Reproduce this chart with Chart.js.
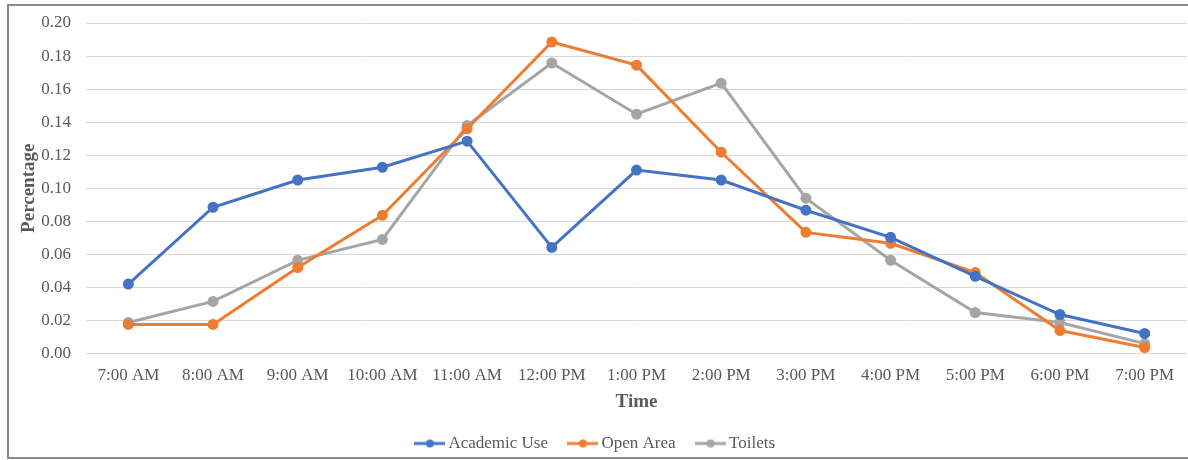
<!DOCTYPE html>
<html>
<head>
<meta charset="utf-8">
<script src="https://cdn.jsdelivr.net/npm/chart.js@4"></script>
<style>
  html, body { margin: 0; padding: 0; background: #fff; overflow: hidden; width: 1188px; height: 460px; }
  #frame { position: absolute; left: 7px; top: 4px; width: 1220px; height: 451px; border: 2px solid #8a8a8a; box-sizing: content-box; pointer-events: none; }
  #wrap { position: absolute; left: 8px; top: 5px; width: 1200px; height: 457px; }
</style>
</head>
<body>
<div id="wrap"><canvas id="chart"></canvas></div>
<div id="frame"></div>
<script>
  const HOURS = ["7:00 AM", "8:00 AM", "9:00 AM", "10:00 AM", "11:00 AM", "12:00 PM", "1:00 PM",
    "2:00 PM", "3:00 PM", "4:00 PM", "5:00 PM", "6:00 PM", "7:00 PM"];
  const ACADEMIC = [0.042, 0.0885, 0.105, 0.1127, 0.1285, 0.0642, 0.111, 0.105, 0.0867, 0.0703, 0.0467, 0.0236, 0.0121];
  const OPEN_AREA = [0.0176, 0.0176, 0.052, 0.0836, 0.136, 0.1885, 0.1745, 0.1218, 0.0733, 0.0667, 0.049, 0.0139, 0.0036];
  const TOILETS = [0.0188, 0.0315, 0.0564, 0.069, 0.138, 0.1758, 0.1448, 0.1636, 0.094, 0.0564, 0.0248, 0.0188, 0.006];

  const TEXT_COLOR = "#595959";
  const GRID_COLOR = "#d9d9d9";
  const FONT = "'Liberation Serif', 'Times New Roman', serif";

  function legendMarker(color) {
    const c = document.createElement("canvas");
    c.width = 31;
    c.height = 10;
    const g = c.getContext("2d");
    g.strokeStyle = color;
    g.lineWidth = 3;
    g.beginPath();
    g.moveTo(0, 5);
    g.lineTo(31, 5);
    g.stroke();
    g.fillStyle = color;
    g.beginPath();
    g.arc(15.5, 5, 4, 0, Math.PI * 2);
    g.fill();
    return c;
  }

  function series(label, data, color) {
    return {
      label: label,
      data: data,
      borderColor: color,
      backgroundColor: color,
      borderWidth: 3,
      pointRadius: 4,
      pointHoverRadius: 4,
      pointBackgroundColor: color,
      pointBorderColor: color,
      pointStyle: "circle",
      tension: 0,
      legendMarker: legendMarker(color),
    };
  }

  new Chart(document.getElementById("chart"), {
    type: "line",
    data: {
      labels: HOURS,
      datasets: [
        series("Academic Use", ACADEMIC, "#4472c4"),
        series("Open Area", OPEN_AREA, "#ed7d31"),
        series("Toilets", TOILETS, "#a5a5a5"),
      ],
    },
    options: {
      responsive: true,
      maintainAspectRatio: false,
      animation: false,
      layout: { padding: { top: 18, right: 21, left: 0, bottom: 0 } },
      plugins: {
        tooltip: { enabled: false },
        legend: {
          position: "bottom",
          labels: {
            usePointStyle: true,
            pointStyleWidth: 20,
            padding: 25,
            color: TEXT_COLOR,
            font: { family: FONT, size: 17 },
            generateLabels: function (chart) {
              return chart.data.datasets.map(function (ds, i) {
                return {
                  text: ds.label,
                  fontColor: TEXT_COLOR,
                  pointStyle: ds.legendMarker,
                  datasetIndex: i,
                  hidden: false,
                  lineWidth: 0,
                };
              });
            },
          },
        },
      },
      scales: {
        x: {
          offset: true,
          grid: { display: false, drawTicks: false },
          border: { display: false },
          ticks: { color: TEXT_COLOR, padding: 12, maxRotation: 0, autoSkip: false, font: { family: FONT, size: 17 } },
          title: {
            display: true,
            text: "Time",
            color: TEXT_COLOR,
            padding: { top: 0, bottom: -2 },
            font: { family: FONT, size: 19, weight: "bold", lineHeight: 1 },
          },
          afterFit: function (scale) {
            scale.height = 56.5;
            scale.paddingLeft = 0;
            scale.paddingRight = 0;
          },
        },
        y: {
          min: 0,
          max: 0.2,
          grid: { color: GRID_COLOR, lineWidth: 1, drawTicks: false },
          border: { display: false },
          ticks: {
            stepSize: 0.02,
            padding: 15,
            color: TEXT_COLOR,
            font: { family: FONT, size: 17 },
            callback: function (v) { return Number(v).toFixed(2); },
          },
          title: {
            display: true,
            text: "Percentage",
            color: TEXT_COLOR,
            padding: { top: 10, bottom: 0 },
            font: { family: FONT, size: 19, weight: "bold" },
          },
          afterFit: function (scale) {
            scale.width = 78;
            scale.paddingTop = 0;
            scale.paddingBottom = 0;
          },
        },
      },
    },
  });
</script>
</body>
</html>
